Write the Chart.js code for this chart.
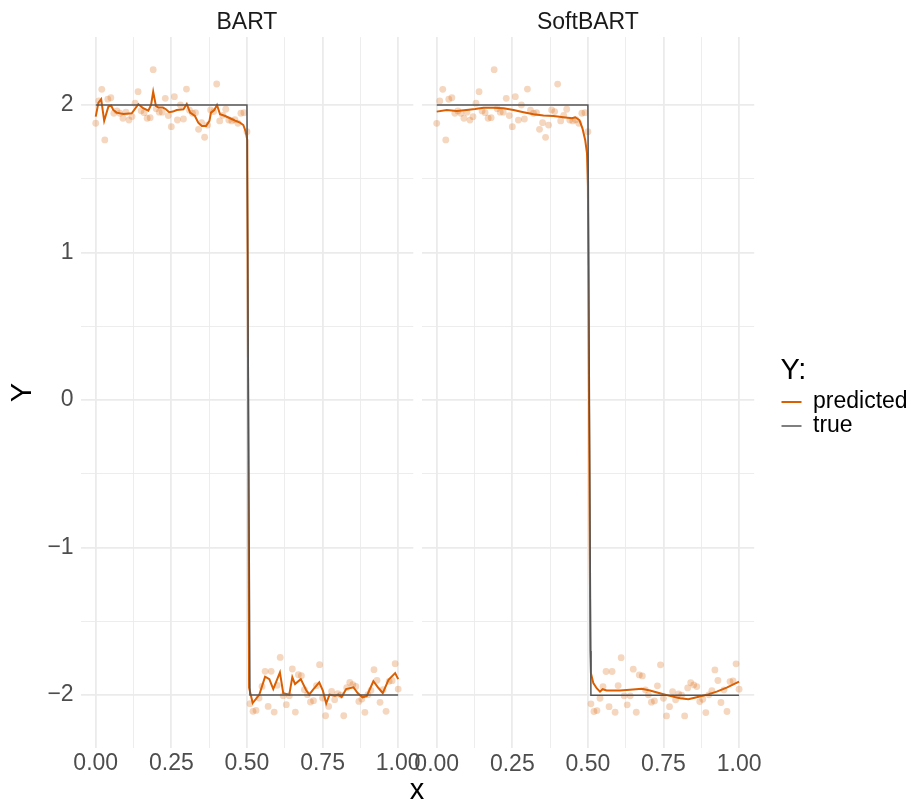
<!DOCTYPE html>
<html><head><meta charset="utf-8">
<script src="https://cdn.jsdelivr.net/npm/chart.js@4.4.1/dist/chart.umd.min.js"></script>
<style>
html,body{margin:0;padding:0;background:#fff;}
#wrap{position:relative;width:917px;height:811px;overflow:hidden;}
canvas{position:absolute;left:0;top:0;}
</style></head><body>
<div id="wrap"><canvas id="c1" width="834" height="811"></canvas><canvas id="c2" width="917" height="811"></canvas></div>
<script>
const FONT = "'Liberation Sans', Arial, Helvetica, sans-serif";

// ---- data ----
const facetTitles = ['BART', 'SoftBART'];
const legendLabels = ['predicted', 'true'];
const xTicks = [0, 0.25, 0.5, 0.75, 1];
const xMinorTicks = [0.125, 0.375, 0.625, 0.875];
const yTicks = [-2, -1, 0, 1, 2];
const yMinorTicks = [-1.5, -0.5, 0.5, 1.5];

const obsX = [0.00,0.01,0.02,0.03,0.04,0.05,0.06,0.07,0.08,0.09,0.10,0.11,0.12,0.13,0.14,0.15,0.16,0.17,0.18,0.19,0.20,0.21,0.22,0.23,0.24,0.25,0.26,0.27,0.28,0.29,0.30,0.31,0.32,0.33,0.34,0.35,0.36,0.37,0.38,0.39,0.40,0.41,0.42,0.43,0.44,0.45,0.46,0.47,0.48,0.49,0.50,
  0.51,0.52,0.53,0.54,0.55,0.56,0.57,0.58,0.59,0.60,0.61,0.62,0.63,0.64,0.65,0.66,0.67,0.68,0.69,0.70,0.71,0.72,0.73,0.74,0.75,0.76,0.77,0.78,0.79,0.80,0.81,0.82,0.83,0.84,0.85,0.86,0.87,0.88,0.89,0.90,0.91,0.92,0.93,0.94,0.95,0.96,0.97,0.98,0.99,1.00];
const obsY = [1.876,2.027,2.106,1.763,2.039,2.049,1.944,1.960,1.944,1.910,1.951,1.898,1.921,2.012,2.090,1.960,1.948,1.910,1.914,2.239,1.975,1.951,1.951,2.045,1.928,1.853,2.056,1.898,2.000,1.905,2.108,1.965,1.944,1.948,1.835,1.880,1.781,1.864,1.966,1.955,2.142,1.892,1.930,1.971,1.898,1.892,1.900,1.876,1.944,1.948,1.819,
  -2.058,-2.110,-2.104,-2.020,-1.941,-1.839,-2.077,-1.839,-2.115,-1.934,-1.745,-2.004,-2.065,-2.004,-1.823,-2.115,-1.862,-1.869,-1.963,-1.997,-2.047,-2.038,-1.936,-1.794,-2.020,-2.140,-2.077,-1.975,-2.031,-1.990,-2.000,-2.140,-1.950,-1.914,-1.930,-1.941,-2.043,-2.027,-2.117,-1.997,-1.968,-1.828,-1.900,-2.049,-1.963,-2.110,-1.907,-1.902,-1.787,-1.959];

const bartX = [0.000,0.009,0.018,0.028,0.042,0.051,0.058,0.069,0.091,0.119,0.141,0.157,0.174,0.183,0.190,0.199,0.207,0.222,0.232,0.243,0.255,0.268,0.290,0.301,0.312,0.328,0.339,0.351,0.365,0.376,0.381,0.392,0.401,0.411,0.428,0.444,0.461,0.477,0.488,0.496,0.501,
  0.507,0.519,0.541,0.560,0.574,0.587,0.609,0.620,0.640,0.650,0.659,0.678,0.695,0.706,0.718,0.739,0.751,0.762,0.773,0.791,0.802,0.813,0.828,0.852,0.866,0.882,0.896,0.918,0.935,0.949,0.968,0.990,1.000];
const bartY = [1.921,2.016,2.039,1.892,1.989,1.996,1.966,1.948,1.939,1.944,2.005,1.978,1.961,2.000,2.090,1.993,1.982,1.982,1.971,1.951,1.955,1.966,1.971,2.007,1.948,1.925,1.880,1.858,1.858,1.892,1.948,1.966,2.000,1.937,1.925,1.910,1.894,1.880,1.864,1.819,1.763,
  -1.950,-2.054,-1.997,-1.875,-1.892,-1.959,-1.846,-1.987,-1.997,-1.878,-1.925,-1.892,-1.964,-1.997,-1.964,-1.914,-1.970,-2.057,-1.997,-2.004,-1.997,-2.013,-1.959,-1.947,-1.986,-2.015,-2.008,-1.906,-1.952,-1.986,-1.896,-1.851,-1.892];

const softX = [0.000,0.033,0.066,0.099,0.127,0.155,0.188,0.221,0.254,0.287,0.320,0.353,0.386,0.419,0.447,0.458,0.472,0.482,0.491,0.497,0.500,0.508,0.510,0.518,0.529,0.540,0.549,0.562,0.606,0.639,0.678,0.705,0.738,0.771,0.805,0.832,0.860,0.893,0.926,0.959,1.000];
const softY = [1.955,1.966,1.959,1.966,1.973,1.982,1.982,1.978,1.966,1.951,1.937,1.928,1.925,1.917,1.910,1.917,1.898,1.842,1.763,1.673,1.450,-1.700,-1.850,-1.918,-1.952,-1.975,-1.959,-1.968,-1.968,-1.963,-1.956,-1.968,-1.986,-2.004,-2.020,-2.027,-2.013,-1.997,-1.975,-1.948,-1.907];

const trueX = [0.00, 0.50, 0.51, 1.00];
const trueY = [2, 2, -2, -2];

// ---- helpers ----
Chart.defaults.font.family = FONT;
function pts(xs, ys) { return xs.map((x, i) => ({x: x, y: ys[i]})); }
function isIn(v, list) { return list.some(t => Math.abs(t - v) < 1e-9); }
const GRID = '#ebebeb';

function makeDatasets(px, py) {
  return [
    {label: 'obs', data: pts(obsX, obsY), showLine: false, pointRadius: 3.4, pointHoverRadius: 3.4,
     pointBackgroundColor: 'rgba(217,95,2,0.26)', pointBorderWidth: 0, borderWidth: 0, order: 3},
    {label: legendLabels[0], data: pts(px, py), borderColor: '#D95F02', backgroundColor: '#D95F02',
     borderWidth: 2, pointRadius: 0, tension: 0, order: 2},
    {label: legendLabels[1], data: pts(trueX, trueY), borderColor: '#555555', backgroundColor: '#555555',
     borderWidth: 1.5, pointRadius: 0, tension: 0, order: 1}
  ];
}

function xScale() {
  return {
    type: 'linear', min: -0.05, max: 1.05,
    afterBuildTicks: s => { s.ticks = xTicks.concat(xMinorTicks).sort((a, b) => a - b).map(v => ({value: v})); },
    afterFit: s => { s.height = 25; },
    ticks: {autoSkip: false, maxRotation: 0, padding: 2, color: '#4d4d4d', font: {size: 23},
            callback: v => isIn(v, xTicks) ? v.toFixed(2) : ''},
    grid: {color: GRID, lineWidth: c => (c.tick && isIn(c.tick.value, xTicks)) ? 1.8 : 0.9, drawTicks: false},
    border: {display: false}
  };
}

function yScale(showLabels) {
  const s = {
    type: 'linear', position: 'left', min: -2.36, max: 2.46,
    afterBuildTicks: sc => { sc.ticks = yTicks.concat(yMinorTicks).sort((a, b) => a - b).map(v => ({value: v})); },
    afterFit: sc => { sc.width = showLabels ? 80.6 : 421.6; },
    ticks: {display: showLabels, padding: 7, color: '#4d4d4d', font: {size: 23},
            callback: v => isIn(v, yTicks) ? (v < 0 ? '\u2212' + Math.abs(v) : String(v)) : ''},
    grid: {color: GRID, lineWidth: c => (c.tick && isIn(c.tick.value, yTicks)) ? 1.8 : 0.9, drawTicks: false},
    border: {display: false}
  };
  if (showLabels) {
    s.title = {display: true, text: 'Y', color: '#000', font: {size: 29}, padding: {top: 6, bottom: 0}};
  }
  return s;
}

// spacer axis: reserves the room right of the left panel so the shared x title centres under both panels
function spacerScale(width) {
  return {
    type: 'linear', position: 'right', min: 0, max: 1, display: true,
    afterFit: sc => { sc.width = width; },
    ticks: {display: false}, grid: {display: false}, border: {display: false}
  };
}

function stripTitle(text) {
  return {display: true, text: text, fullSize: false, color: '#1a1a1a',
          font: {size: 23, weight: 'normal'}, padding: {top: 8.5, bottom: 1}};
}

// ---- left panel (BART) ----
new Chart(document.getElementById('c1'), {
  type: 'line',
  data: {datasets: makeDatasets(bartX, bartY)},
  options: {
    responsive: false, animation: false, devicePixelRatio: 1, events: [],
    layout: {padding: 0},
    scales: {x: xScale(), y: yScale(true), gap: spacerScale(834 - 413.3)},
    plugins: {
      legend: {display: false},
      tooltip: {enabled: false},
      title: stripTitle(facetTitles[0]),
      subtitle: {display: true, text: 'x', position: 'bottom', fullSize: true, color: '#000',
                 font: {size: 29, weight: 'normal'}, padding: {top: 0, bottom: 3}}
    }
  }
});

// ---- right panel (SoftBART) + legend ----
const legendPlace = {
  id: 'legendPlace',
  afterLayout(chart) {
    const lg = chart.legend;
    if (!lg) return;
    lg.left = 780.5; lg.right = 917; lg.width = 917 - 780.5;
  }
};

new Chart(document.getElementById('c2'), {
  type: 'line',
  data: {datasets: makeDatasets(softX, softY)},
  options: {
    responsive: false, animation: false, devicePixelRatio: 1, events: [],
    layout: {padding: {left: 0, right: 62.8, top: 0, bottom: 37.6}},
    scales: {x: xScale(), y: yScale(false)},
    plugins: {
      tooltip: {enabled: false},
      title: stripTitle(facetTitles[1]),
      legend: {
        display: true, position: 'right', align: 'center', maxWidth: 100,
        labels: {filter: item => item.text !== 'obs', sort: (a, b) => a.datasetIndex - b.datasetIndex,
                 usePointStyle: true, pointStyle: 'line', pointStyleWidth: 20,
                 padding: 1, color: '#000', font: {size: 23}},
        title: {display: true, text: 'Y:', position: 'start', color: '#000', font: {size: 29},
                padding: {top: 22, bottom: -2}}
      }
    }
  },
  plugins: [legendPlace]
});
</script>
</body></html>
